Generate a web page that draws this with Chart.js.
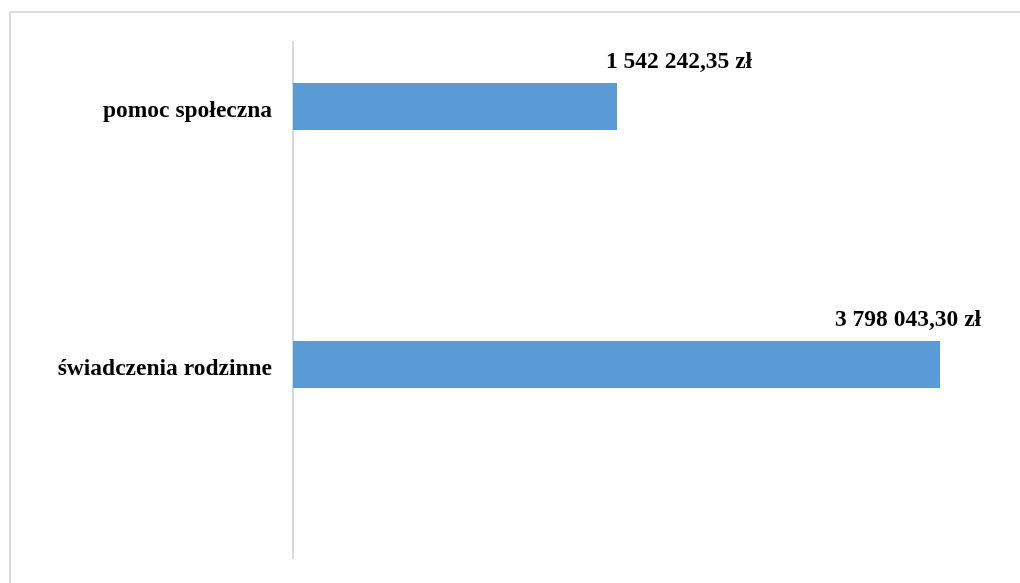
<!DOCTYPE html>
<html>
<head>
<meta charset="utf-8">
<script src="https://cdn.jsdelivr.net/npm/chart.js@4/dist/chart.umd.min.js"></script>
<style>
  html, body { margin: 0; padding: 0; background: #ffffff; overflow: hidden; }
  #wrap { position: relative; width: 1020px; height: 583px; overflow: hidden; }
  #frame { position: absolute; left: 9px; top: 11px; width: 1100px; height: 700px; border: 2px solid #dadada; box-sizing: border-box; }
  #c { position: absolute; left: 0; top: 0; }
</style>
</head>
<body>
<div id="wrap">
  <div id="frame"></div>
  <canvas id="c" width="1020" height="583"></canvas>
</div>
<script>
// Categories (blank slots are the empty gaps below each bar)
const categories = ['pomoc społeczna', '', 'świadczenia rodzinne', ''];
// Series values (zł)
const values = [1542242.35, null, 3798043.30, null];
// Value axis range (the drawn axis line sits at the axis minimum)
const axisMin = -720550;
const axisMax = 4147245;

function formatPLN(v) {
  const parts = v.toFixed(2).split('.');
  const intPart = parts[0].replace(/\B(?=(\d{3})+(?!\d))/g, ' ');
  return intPart + ',' + parts[1] + ' zł';
}

const FONT = '"Liberation Serif", "Times New Roman", serif';

const valueLabelPlugin = {
  id: 'valueLabels',
  afterDatasetsDraw(chart, args, opts) {
    const ctx = chart.ctx;
    const meta = chart.getDatasetMeta(0);
    ctx.save();
    ctx.font = 'bold 23.5px ' + FONT;
    ctx.fillStyle = '#000000';
    ctx.textAlign = 'center';
    ctx.textBaseline = 'alphabetic';
    meta.data.forEach((bar, i) => {
      const v = values[i];
      if (v === null || v === undefined) return;
      const dx = opts.dx[i] || 0;
      const top = bar.y - bar.height / 2;
      ctx.fillText(formatPLN(v), bar.x + dx, top - opts.gap);
    });
    ctx.restore();
  }
};

new Chart(document.getElementById('c'), {
  type: 'bar',
  data: {
    labels: categories,
    datasets: [{
      data: values,
      base: axisMin,
      backgroundColor: '#5b9bd5',
      borderWidth: 0,
      barPercentage: 0.364,
      categoryPercentage: 1.0
    }]
  },
  options: {
    indexAxis: 'y',
    responsive: false,
    animation: false,
    layout: { padding: { left: 0, right: 30, top: 42, bottom: 25 } },
    plugins: {
      legend: { display: false },
      tooltip: { enabled: false },
      valueLabels: { dx: [62, 0, -32, 0], gap: 15 }
    },
    scales: {
      x: {
        display: false,
        min: axisMin,
        max: axisMax
      },
      y: {
        position: 'left',
        grid: { display: false },
        border: { display: true, color: '#d9d9d9', width: 2 },
        ticks: {
          padding: 13,
          labelOffset: 4,
          color: '#000000',
          font: { family: FONT, size: 23.5, weight: 'bold' }
        },
        afterFit(scale) {
          scale.width = 293;
          scale.paddingTop = 0;
          scale.paddingBottom = 0;
        }
      }
    }
  },
  plugins: [valueLabelPlugin]
});
</script>
</body>
</html>
